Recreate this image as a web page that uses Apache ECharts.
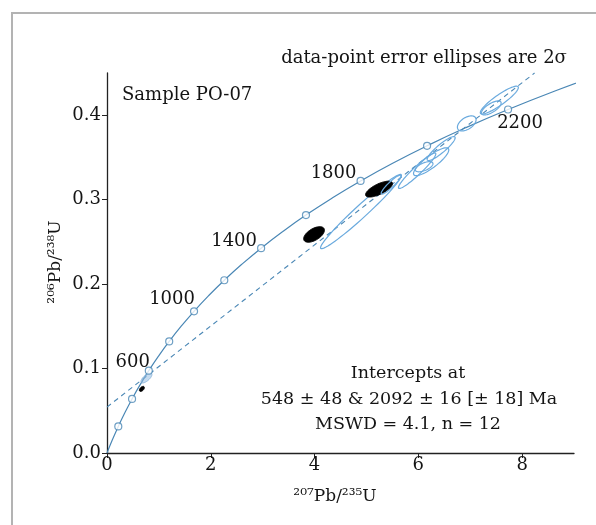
<!DOCTYPE html>
<html><head><meta charset="utf-8">
<script src="https://cdn.jsdelivr.net/npm/echarts@6/dist/echarts.min.js"></script>
<style>html,body{margin:0;padding:0;background:#fff}#c{width:596px;height:525px}</style>
</head><body><div id="c"></div>
<script>
// Concordia curve points (age in Ma, 207Pb/235U, 206Pb/238U)
const concordiaAges = [0,100,200,300,400,500,600,700,800,900,1000,1100,1200,1300,1400,1500,1600,1700,1800,1900,2000,2100,2200,2300,2400];
const concordiaX = [0,0.1035,0.2177,0.3437,0.4828,0.6363,0.8056,0.9925,1.1987,1.4263,1.6774,1.9546,2.2603,2.5978,2.9701,3.3810,3.8344,4.3348,4.8869,5.4962,6.1685,6.9104,7.7290,8.6325,9.6294];
const concordiaY = [0,0.01563,0.03151,0.04764,0.06402,0.08065,0.09754,0.11470,0.13213,0.14983,0.16782,0.18606,0.20460,0.22343,0.24256,0.26199,0.28173,0.30178,0.32214,0.34283,0.36376,0.38509,0.40675,0.42875,0.45110];
// Age markers and labelled ages
const markerAges = [200,400,600,800,1000,1200,1400,1600,1800,2000,2200];
const labelAges = [600,1000,1400,1800,2200];
// Discordia line endpoints
const discordiaX = [0, 8.24];
const discordiaY = [0.0544, 0.450];
// Error ellipses: centre, half-extent in x and y (2 sigma), correlation, kind
const ellipseCX  = [4.895, 3.99, 5.243, 5.474, 5.977, 6.247, 6.44, 6.112, 6.933, 7.561, 7.406, 0.76, 0.672];
const ellipseCY  = [0.2859, 0.2588, 0.3125, 0.3178, 0.3343, 0.3449, 0.3605, 0.339, 0.3903, 0.4179, 0.4086, 0.0888, 0.0759];
const ellipseAX  = [0.78, 0.20, 0.26, 0.19, 0.36, 0.34, 0.27, 0.17, 0.18, 0.367, 0.19, 0.106, 0.048];
const ellipseAY  = [0.044, 0.0092, 0.0094, 0.0112, 0.021, 0.0165, 0.0142, 0.006, 0.0089, 0.0165, 0.0083, 0.0059, 0.003];
const ellipseRho = [0.975, 0.55, 0.7, 0.92, 0.95, 0.85, 0.9, 0.6, 0.5, 0.9, 0.7, 0.7, 0.5];
const ellipseKind = ['open','black','black','open','open','open','open','open','open','open','open','shaded','black'];
// Tick values
const xTicks = [0,2,4,6,8];
const yTicks = [0,0.1,0.2,0.3,0.4];

const FONT = 'DejaVu Serif';
const CURVE = '#4a87b5';
const ELL = '#6aaade';
const TXT = '#141414';
const labelOffsets = {600:[-16,-8],1000:[-22,-12],1400:[-27,-7],1800:[-27,-8],2200:[12,14]};

const curveData = concordiaX.map((x,i)=>[x, concordiaY[i]]);
const markerData = markerAges.map(a=>{
  const i = concordiaAges.indexOf(a);
  const lab = labelAges.includes(a);
  return {value:[concordiaX[i], concordiaY[i]], name:String(a),
    label: lab ? {show:true, position:'inside', offset:labelOffsets[a], formatter:'{b}',
      fontFamily:FONT, fontSize:18, color:TXT, textBorderWidth:0, opacity:1} : {show:false}};
});
const ellData = ellipseCX.map((c,i)=>[c, ellipseCY[i], ellipseAX[i], ellipseAY[i], ellipseRho[i], i]);

const chart = echarts.init(document.getElementById('c'), null, {renderer:'canvas'});
chart.setOption({
  animation:false,
  backgroundColor:'#fff',
  grid:{left:107, right:22, top:73, bottom:72},
  xAxis:{type:'value', min:0, max:9,
    axisLine:{show:true, onZero:false, lineStyle:{color:'#222', width:1.3}},
    axisTick:{show:true, customValues:xTicks, length:5, lineStyle:{color:'#222'}},
    axisLabel:{customValues:xTicks, fontFamily:FONT, fontSize:18, color:TXT, margin:3},
    splitLine:{show:false}},
  yAxis:{type:'value', min:0, max:0.45,
    axisLine:{show:true, onZero:false, lineStyle:{color:'#222', width:1.3}},
    axisTick:{show:true, customValues:yTicks, length:5, lineStyle:{color:'#222'}},
    axisLabel:{customValues:yTicks, fontFamily:FONT, fontSize:18, color:TXT, margin:6,
      formatter:v=>v.toFixed(1)},
    splitLine:{show:false}},
  series:[
    {type:'line', data:curveData, smooth:true, symbol:'none', lineStyle:{color:CURVE, width:1.2}, z:3},
    {type:'line', data:discordiaX.map((x,i)=>[x, discordiaY[i]]), symbol:'none',
      lineStyle:{color:CURVE, width:1.1, type:[5,4]}, z:2, clip:false},
    {type:'custom', data:ellData, clip:false, z:4,
      renderItem:function(params, api){
        const cx=api.value(0), cy=api.value(1), ax=api.value(2), ay=api.value(3), r=api.value(4);
        const kind = ellipseKind[api.value(5)];
        const s = Math.sqrt(1-r*r);
        const pts=[];
        for(let k=0;k<72;k++){
          const t=k/72*2*Math.PI;
          pts.push(api.coord([cx+ax*Math.cos(t), cy+ay*(r*Math.cos(t)+s*Math.sin(t))]));
        }
        let style;
        if(kind==='black') style={fill:'#000', stroke:'#000', lineWidth:1};
        else if(kind==='shaded') style={fill:'rgba(150,190,225,0.55)', stroke:'rgba(130,175,215,0.8)', lineWidth:1};
        else style={fill:'none', stroke:ELL, lineWidth:1.2};
        return {type:'polygon', shape:{points:pts}, style:style};
      }},
    {type:'scatter', data:markerData, symbol:'circle', symbolSize:7, z:6,
      itemStyle:{color:'#fff', borderColor:CURVE, borderWidth:1.2}}
  ],
  graphic:[
    {type:'polyline', shape:{points:[[12,530],[12,13],[600,13]]}, style:{stroke:'#b3b3b3', lineWidth:2, fill:null}, silent:true},
    {type:'text', x:122, y:95, style:{text:'Sample PO-07', font:'18px "DejaVu Serif"', fill:TXT, verticalAlign:'middle'}},
    {type:'text', x:424, y:58, style:{text:'data-point error ellipses are 2\u03c3', font:'18px "DejaVu Serif"', fill:TXT, align:'center', verticalAlign:'middle'}},
    {type:'text', x:408, y:373, style:{text:'Intercepts at', font:'17.5px "DejaVu Serif"', fill:TXT, align:'center', verticalAlign:'middle'}},
    {type:'text', x:409, y:399, style:{text:'548 \u00b1 48 & 2092 \u00b1 16 [\u00b1 18] Ma', font:'17.5px "DejaVu Serif"', fill:TXT, align:'center', verticalAlign:'middle'}},
    {type:'text', x:408, y:424, style:{text:'MSWD = 4.1, n = 12', font:'17.5px "DejaVu Serif"', fill:TXT, align:'center', verticalAlign:'middle'}},
    {type:'text', x:335, y:497, style:{text:'\u00b2\u2070\u2077Pb/\u00b2\u00b3\u2075U', font:'17px "DejaVu Serif"', fill:TXT, align:'center', verticalAlign:'middle'}},
    {type:'text', x:56, y:262, rotation:Math.PI/2, style:{text:'\u00b2\u2070\u2076Pb/\u00b2\u00b3\u2078U', font:'17px "DejaVu Serif"', fill:TXT, align:'center', verticalAlign:'middle'}}
  ]
});
</script></body></html>
